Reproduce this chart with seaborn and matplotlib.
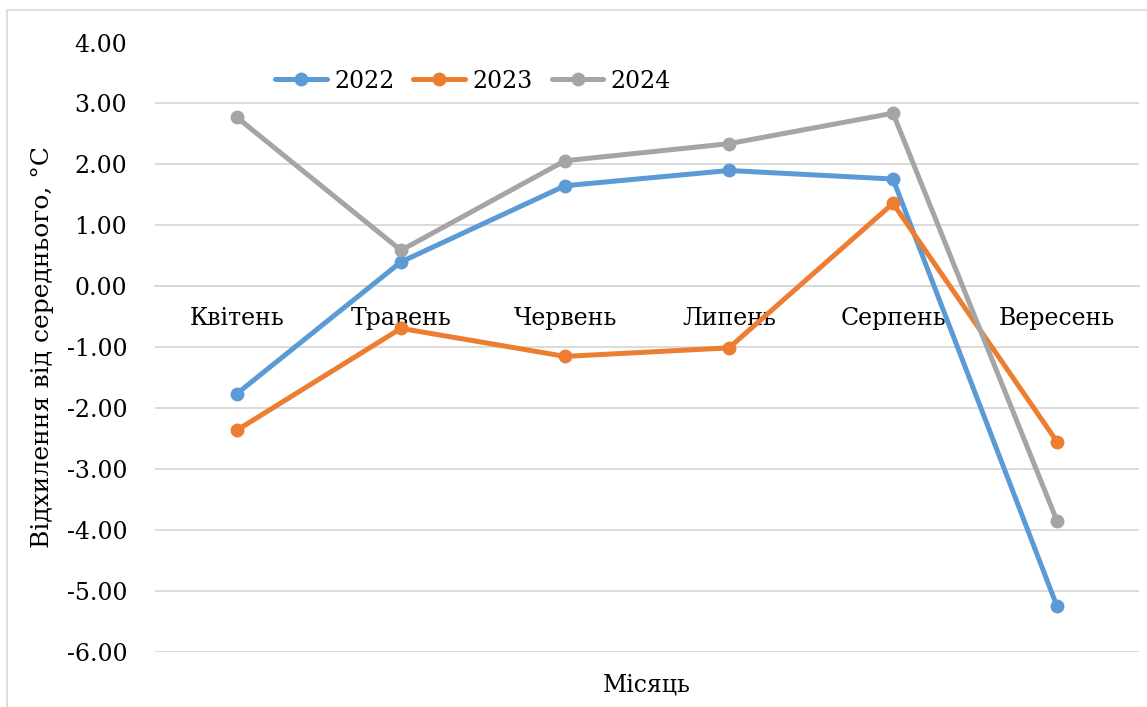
import matplotlib
matplotlib.use("Agg")
import matplotlib.pyplot as plt
from matplotlib.patches import Rectangle
import seaborn as sns
import pandas as pd

months = ["Квітень", "Травень", "Червень", "Липень", "Серпень", "Вересень"]
years = ["2022", "2023", "2024"]
dev_2022 = [-1.76, 0.40, 1.65, 1.90, 1.76, -5.25]
dev_2023 = [-2.36, -0.69, -1.15, -1.01, 1.36, -2.55]
dev_2024 = [2.77, 0.59, 2.06, 2.34, 2.84, -3.85]
y_ticks = [4, 3, 2, 1, 0, -1, -2, -3, -4, -5, -6]

palette = {"2022": "#5B9BD5", "2023": "#ED7D31", "2024": "#A5A5A5"}

rows = []
for year, vals in zip(years, [dev_2022, dev_2023, dev_2024]):
    for i, (m, v) in enumerate(zip(months, vals)):
        rows.append({"idx": i, "month": m, "year": year, "value": v})
df = pd.DataFrame(rows)

sns.set_style("white")
plt.rcParams["font.family"] = ["DejaVu Serif"]
plt.rcParams["text.color"] = "black"
plt.rcParams["axes.labelcolor"] = "black"
plt.rcParams["xtick.labelcolor"] = "black"
plt.rcParams["ytick.labelcolor"] = "black"
FS = 17

fig = plt.figure(figsize=(11.47, 7.07), dpi=100)
W, H = 1147, 707
left, right, top, bottom = 155, 1139, 42.5, 652
ax = fig.add_axes([left / W, 1 - bottom / H, (right - left) / W, (bottom - top) / H])

# chart frame
fig.patches.append(Rectangle((7 / W, -0.1), 1.2, 1 - 10 / H + 0.1,
                             transform=fig.transFigure, fill=False,
                             edgecolor="#D9D9D9", linewidth=1.2))

sns.lineplot(data=df, x="idx", y="value", hue="year", palette=palette,
             marker="o", markersize=10, markeredgewidth=0, linewidth=3.6,
             ax=ax, legend=True, zorder=3)

ax.set_xlim(-0.5, len(months) - 0.5)
ax.set_ylim(-6, 4)
ax.set_yticks(y_ticks)
ax.set_yticklabels([f"{t:.2f}" for t in y_ticks], fontsize=FS)
ax.yaxis.grid(True, color="#D9D9D9", linewidth=1.3)
ax.set_axisbelow(True)

for s in ["top", "right", "left"]:
    ax.spines[s].set_visible(False)
ax.spines["bottom"].set_position(("data", 0))
ax.spines["bottom"].set_color("#D9D9D9")
ax.spines["bottom"].set_linewidth(1.3)

ax.set_xticks(range(len(months)))
ax.set_xticklabels(months, fontsize=FS)
ax.set_xticks([i - 0.5 for i in range(len(months) + 1)], minor=True)
ax.tick_params(axis="x", which="major", length=0, pad=15)
ax.tick_params(axis="x", which="minor", length=8, color="#D9D9D9", width=1.3)
ax.tick_params(axis="y", length=0, pad=20)

ax.set_xlabel("")
ax.set_ylabel("Відхилення від середнього, °C", fontsize=18, labelpad=9)
fig.text((left + right) / 2 / W, 1 - 685 / H, "Місяць", fontsize=FS,
         ha="center", va="center")

leg = ax.legend(loc="center", bbox_to_anchor=((473 - left) / (right - left), (bottom - 81) / (bottom - top)),
                ncol=3, frameon=False, fontsize=FS, handlelength=2.2,
                handletextpad=0.3, columnspacing=0.8)
for h in leg.get_lines():
    h.set_linewidth(3.6)

fig.savefig("out.png", dpi=100)
